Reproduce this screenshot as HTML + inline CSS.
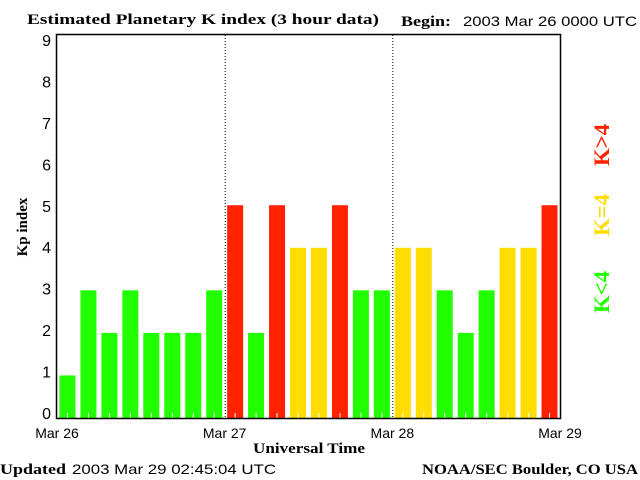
<!DOCTYPE html>
<html><head><meta charset="utf-8"><style>
body{margin:0;background:#fff}
svg{display:block}
text{font-family:"Liberation Serif",serif}
</style></head><body>
<svg id="c" width="640" height="480" xmlns="http://www.w3.org/2000/svg">
<text x="27" y="24" font-size="15" font-weight="bold" textLength="352" lengthAdjust="spacingAndGlyphs">Estimated Planetary K index (3 hour data)</text>
<text x="401" y="26" font-size="15" font-weight="bold" textLength="50" lengthAdjust="spacingAndGlyphs">Begin:</text>
<text x="463" y="26" font-size="14" textLength="174" lengthAdjust="spacingAndGlyphs" style="font-family:'Liberation Sans',sans-serif">2003 Mar 26 0000 UTC</text>
<text x="0" y="474" font-size="15" font-weight="bold" textLength="66" lengthAdjust="spacingAndGlyphs">Updated</text>
<text x="72" y="474" font-size="14" textLength="204" lengthAdjust="spacingAndGlyphs" style="font-family:'Liberation Sans',sans-serif">2003 Mar 29 02:45:04 UTC</text>
<text x="422" y="474" font-size="15" font-weight="bold" textLength="216" lengthAdjust="spacingAndGlyphs">NOAA/SEC Boulder, CO USA</text>
<text x="253" y="453" font-size="15" font-weight="bold" textLength="112" lengthAdjust="spacingAndGlyphs">Universal Time</text>
<text transform="translate(27,227) rotate(-90)" font-size="15" font-weight="bold" text-anchor="middle">Kp index</text>
<g font-size="22" font-weight="bold" text-anchor="middle">
<text transform="translate(609,145) rotate(-90)" fill="#ff2200" textLength="42" lengthAdjust="spacingAndGlyphs">K&gt;4</text>
<text transform="translate(609,215) rotate(-90)" fill="#ffdd00" textLength="42" lengthAdjust="spacingAndGlyphs">K=4</text>
<text transform="translate(609,292) rotate(-90)" fill="#22ff00" textLength="42" lengthAdjust="spacingAndGlyphs">K&lt;4</text>
</g>
<g id="plot"></g>
</svg>
<script>
const values=[1,3,2,3,2,2,2,3, 5,2,5,4,4,5,3,3, 4,4,3,2,3,4,4,5];
const yTicks=[0,1,2,3,4,5,6,7,8,9];
const dayLabels=["Mar 26","Mar 27","Mar 28","Mar 29"];
const L=57,R=560,T=35,B=418,yMax=9;
const n=values.length,pitch=(R-L)/n;
const X=i=>L+pitch*i;
const Y=v=>B-(B-T)*v/yMax;
const g=document.getElementById('plot');
const NS='http://www.w3.org/2000/svg';
function mk(t,a){const e=document.createElementNS(NS,t);for(const k in a)e.setAttribute(k,a[k]);g.appendChild(e);return e;}
values.forEach((v,i)=>{
  const col=v>4?'#ff2200':(v===4?'#ffdd00':'#22ff00');
  const cx=X(i+0.5);
  const r=mk('rect',{x:cx-8,y:Y(v),width:16,height:B-Y(v),fill:col});
  
  
  const t=mk('line',{x1:cx,x2:cx,y1:B-5,y2:B,stroke:'#fff'});
  
  
});
for(let d=1;d<dayLabels.length-1;d++){
  const x=X(d*8)+0.5;
  const l=mk('line',{x1:x,x2:x,y1:T,y2:B,stroke:'#000','stroke-dasharray':'1,2'});
  
  
}
const f=mk('rect',{x:L-0.5,y:T-0.5,width:R-L+1,height:B-T+1,fill:'none',stroke:'#000','stroke-width':1.5});


const labelY=v=>413-(413-40)*v/yMax+6;
yTicks.forEach(v=>{
  const t=mk('text',{x:L-6,y:labelY(v),'font-size':16,'text-anchor':'end',style:"font-family:'Liberation Sans',sans-serif"});
  t.textContent=v;
  
  
});
dayLabels.forEach((s,d)=>{
  const t=mk('text',{x:X(d*8),y:438,'font-size':14,'text-anchor':'middle',style:"font-family:'Liberation Sans',sans-serif"});
  t.textContent=s;
  
  
});
</script>
</body></html>
